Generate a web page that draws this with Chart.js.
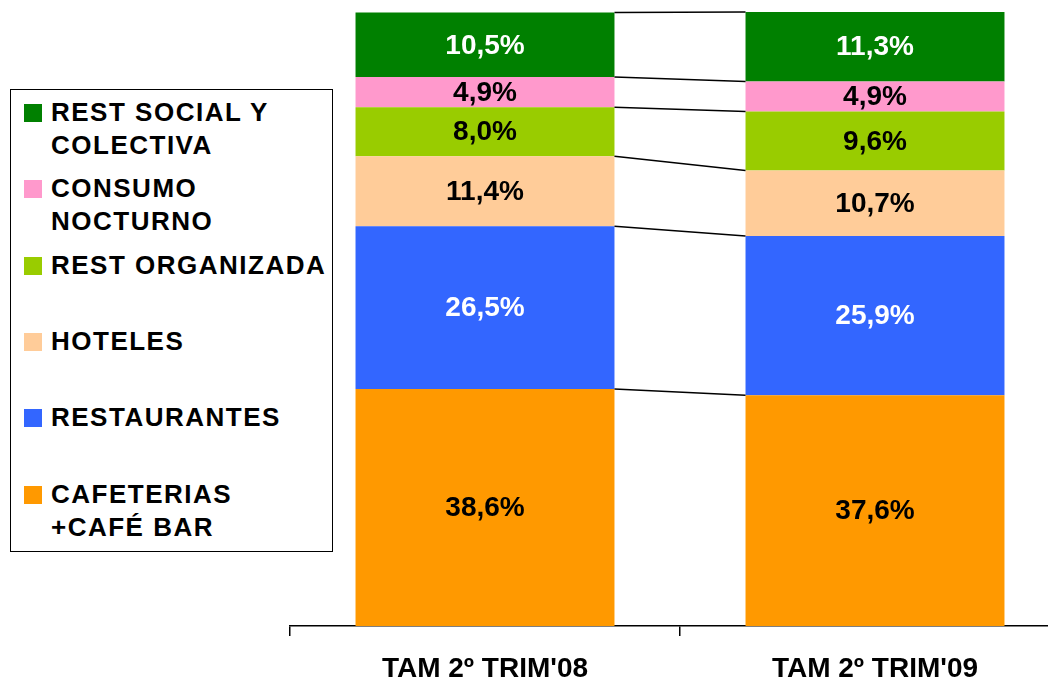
<!DOCTYPE html>
<html>
<head>
<meta charset="utf-8">
<script src="https://cdn.jsdelivr.net/npm/chart.js@4.4.1/dist/chart.umd.min.js"></script>
<style>
    html, body { margin: 0; padding: 0; background: #fff; overflow: hidden; }
    #wrap { position: relative; width: 1100px; height: 682px; }
    #legend {
        position: absolute; left: 10px; top: 89px; width: 321px; height: 461px;
        border: 1.5px solid #000; background: #fff;
        font-family: "Liberation Sans", Arial, sans-serif; font-weight: bold;
        font-size: 26px; line-height: 33px; letter-spacing: 1.5px; color: #000;
    }
    .legend-item { position: absolute; left: 13px; }
    .legend-color { position: absolute; left: 0; top: 8px; width: 18px; height: 18px; }
    .legend-text { position: absolute; left: 27px; white-space: nowrap; }
</style>
</head>
<body>
<div id="wrap">
    <canvas id="chart" width="1100" height="682"></canvas>
    <div id="legend"></div>
</div>
<script>
// Dati
const categories = ['TAM 2º TRIM\'08', 'TAM 2º TRIM\'09'];
const seriesNames = ['CAFETERIAS\n+CAFÉ BAR', 'RESTAURANTES', 'HOTELES', 'REST ORGANIZADA', 'CONSUMO\nNOCTURNO', 'REST SOCIAL Y\nCOLECTIVA'];
const cafeterias = [38.6, 37.6];
const restaurantes = [26.5, 25.9];
const hoteles = [11.4, 10.7];
const restOrganizada = [8.0, 9.6];
const consumoNocturno = [4.9, 4.9];
const restSocial = [10.5, 11.3];

const seriesValues = [cafeterias, restaurantes, hoteles, restOrganizada, consumoNocturno, restSocial];
const seriesColors = ['#FF9900', '#3366FF', '#FFCC99', '#99CC00', '#FF99CC', '#008000'];
const labelColors = ['#000', '#fff', '#000', '#000', '#000', '#fff'];

const FONT = '"Liberation Sans", Arial, sans-serif';

// Linee di collegamento tra i segmenti
const connectorPlugin = {
    id: 'connectors',
    afterDatasetsDraw(chart) {
        const ctx = chart.ctx;
        const y = chart.scales.y;
        ctx.save();
        ctx.strokeStyle = '#000';
        ctx.lineWidth = 1.5;
        const cum = [0, 0];
        seriesValues.forEach((vals, i) => {
            cum[0] += vals[0];
            cum[1] += vals[1];
            const meta = chart.getDatasetMeta(i);
            const b1 = meta.data[0], b2 = meta.data[1];
            const x1 = b1.x + b1.width / 2;
            const x2 = b2.x - b2.width / 2;
            ctx.beginPath();
            ctx.moveTo(x1, y.getPixelForValue(cum[0]));
            ctx.lineTo(x2, y.getPixelForValue(cum[1]));
            ctx.stroke();
        });
        ctx.restore();
    }
};

// Etichette percentuali dentro le barre
const valueLabelPlugin = {
    id: 'valueLabels',
    afterDatasetsDraw(chart) {
        const ctx = chart.ctx;
        ctx.save();
        ctx.font = 'bold 28px ' + FONT;
        ctx.textAlign = 'center';
        ctx.textBaseline = 'middle';
        chart.data.datasets.forEach((ds, i) => {
            chart.getDatasetMeta(i).data.forEach((bar, j) => {
                const mid = (bar.y + bar.base) / 2;
                ctx.fillStyle = labelColors[i];
                ctx.fillText(ds.data[j].toFixed(1).replace('.', ',') + '%', bar.x, mid + 1);
            });
        });
        ctx.restore();
    }
};

const datasets = seriesValues.map((vals, i) => ({
    label: seriesNames[i],
    data: vals,
    backgroundColor: seriesColors[i],
    borderWidth: 0,
    barPercentage: 0.664,
    categoryPercentage: 1
}));

new Chart(document.getElementById('chart'), {
    type: 'bar',
    data: { labels: categories, datasets: datasets },
    options: {
        responsive: false,
        animation: false,
        events: [],
        layout: { padding: { left: 290, right: 30, top: 12, bottom: 0 } },
        plugins: { legend: { display: false }, tooltip: { enabled: false } },
        scales: {
            x: {
                stacked: true,
                offset: true,
                grid: { display: true, drawOnChartArea: false, drawTicks: true, tickLength: 10, color: '#000', lineWidth: 1.5, offset: true },
                border: { display: true, color: '#000', width: 1.5 },
                ticks: { color: '#000', font: { family: FONT, size: 28, weight: 'bold' }, padding: 16 },
                afterFit(scale) { scale.height = 56; }
            },
            y: {
                stacked: true,
                display: false,
                min: 0,
                max: 100
            }
        }
    },
    plugins: [connectorPlugin, valueLabelPlugin]
});

// Legenda personalizzata
const legendTops = [6, 82, 159, 235, 311, 388];
const legendOrder = [5, 4, 3, 2, 1, 0];
document.getElementById('legend').innerHTML = legendOrder.map((s, k) => `
    <div class="legend-item" style="top:${legendTops[k]}px">
        <span class="legend-color" style="background:${seriesColors[s]}"></span>
        <span class="legend-text">${seriesNames[s].replace('\n', '<br>')}</span>
    </div>
`).join('');
</script>
</body>
</html>
